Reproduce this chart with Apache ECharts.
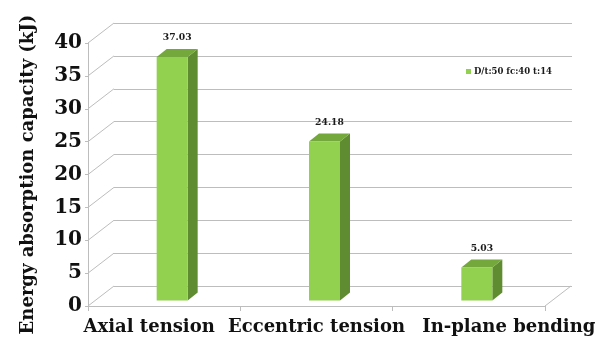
<!DOCTYPE html>
<html>
<head>
<meta charset="utf-8">
<script src="https://cdn.jsdelivr.net/npm/echarts@6/dist/echarts.min.js"></script>
<style>
  html, body { margin: 0; padding: 0; background: #fff; }
  #chart { width: 611px; height: 342px; }
</style>
</head>
<body>
<div id="chart"></div>
<script>
// Energy absorption per loading case
const categories = ['Axial tension', 'Eccentric tension', 'In-plane bending'];
const seriesName = 'D/t:50 fc:40 t:14';
const energyValues = [37.03, 24.18, 5.03];
const yTicks = [0, 5, 10, 15, 20, 25, 30, 35, 40];

// Pseudo-3D geometry (pixels)
const WALL_DX = 26, WALL_DY = -20;   // depth of the back wall
const BAR_DX = 8, BAR_DY = -5.5;     // bar front face shift into depth
const BAR_DEPTH_X = 10, BAR_DEPTH_Y = -8;
const BAR_HALF = 15.5;
// horizontal nudge of each category label so the long labels don't collide
const LABEL_SHIFT = [-15, 0, 40];

const FONT = 'DejaVu Serif';
const GRID_COLOR = '#bdbdbd';

const chart = echarts.init(document.getElementById('chart'), null, { renderer: 'canvas' });

function wallRender(params, api) {
  const cs = params.coordSys;
  const v = api.value(0);
  const y = api.coord([0, v])[1];
  const children = [{
    type: 'line',
    shape: { x1: cs.x, y1: y, x2: cs.x + WALL_DX, y2: y + WALL_DY },
    style: { stroke: GRID_COLOR, lineWidth: 1 }
  }];
  if (v === 0) {
    // right edge of the floor
    const xr = cs.x + cs.width;
    children.push({
      type: 'line',
      shape: { x1: xr, y1: y, x2: xr + WALL_DX, y2: y + WALL_DY },
      style: { stroke: GRID_COLOR, lineWidth: 1 }
    });
  }
  return { type: 'group', children: children };
}

function barRender(params, api) {
  const idx = api.value(0);
  const val = api.value(1);
  const top = api.coord([idx, val]);
  const base = api.coord([idx, 0]);
  const cx = top[0] + BAR_DX;
  const xl = cx - BAR_HALF, xr = cx + BAR_HALF;
  const yt = top[1] + BAR_DY, yb = base[1] + BAR_DY;
  return {
    type: 'group',
    children: [
      {
        type: 'polygon',
        shape: { points: [[xr, yt], [xr + BAR_DEPTH_X, yt + BAR_DEPTH_Y], [xr + BAR_DEPTH_X, yb + BAR_DEPTH_Y], [xr, yb]] },
        style: { fill: '#5f8c30' }
      },
      {
        type: 'polygon',
        shape: { points: [[xl, yt], [xl + BAR_DEPTH_X, yt + BAR_DEPTH_Y], [xr + BAR_DEPTH_X, yt + BAR_DEPTH_Y], [xr, yt]] },
        style: { fill: '#74a83c' }
      },
      {
        type: 'rect',
        shape: { x: xl, y: yt, width: xr - xl, height: yb - yt },
        style: { fill: '#92d050' }
      },
      {
        type: 'text',
        style: {
          text: val.toFixed(2),
          x: cx + 5, y: yt + BAR_DEPTH_Y - 11,
          align: 'center', verticalAlign: 'middle',
          font: 'bold 9.2px "' + FONT + '"',
          fill: '#1a1a1a'
        }
      }
    ]
  };
}

const categoryItems = categories.map((c, i) => {
  const s = LABEL_SHIFT[i];
  return {
    value: c,
    textStyle: { padding: s >= 0 ? [0, 0, 0, 2 * s] : [0, -2 * s, 0, 0] }
  };
});

chart.setOption({
  animation: false,
  backgroundColor: '#ffffff',
  grid: [
    { left: 88, right: 66, top: 43, bottom: 36 },
    { left: 114, right: 39, top: 23, bottom: 56 }
  ],
  legend: {
    data: [seriesName],
    left: 461, top: 62,
    icon: 'rect', itemWidth: 5, itemHeight: 5, itemGap: 4,
    textStyle: { fontFamily: FONT, fontWeight: 'bold', fontSize: 8.5, color: '#1a1a1a', padding: [0, 0, 0, -2] }
  },
  xAxis: [
    {
      gridIndex: 0, type: 'category', data: categoryItems,
      axisLine: { show: true, lineStyle: { color: GRID_COLOR, width: 1 } },
      axisTick: { show: true, length: 5, lineStyle: { color: GRID_COLOR } },
      axisLabel: { interval: 0, hideOverlap: false, margin: 12, fontFamily: FONT, fontWeight: 'bold', fontSize: 18, color: '#111' }
    },
    {
      gridIndex: 1, type: 'category', data: categories,
      axisLine: { show: false }, axisTick: { show: false }, axisLabel: { show: false }
    }
  ],
  yAxis: [
    {
      gridIndex: 0, type: 'value', min: 0, max: 40, interval: 5,
      name: 'Energy absorption capacity (kJ)',
      nameLocation: 'middle', nameGap: 51,
      nameTextStyle: { fontFamily: FONT, fontWeight: 'bold', fontSize: 18, color: '#111' },
      axisLine: { show: true, lineStyle: { color: GRID_COLOR, width: 1 } },
      axisTick: { show: true, length: 3, lineStyle: { color: GRID_COLOR } },
      splitLine: { show: false },
      axisLabel: { margin: 6, fontFamily: FONT, fontWeight: 'bold', fontSize: 20, color: '#111',
                   formatter: v => yTicks.includes(v) ? String(v) : '' }
    },
    {
      gridIndex: 1, type: 'value', min: 0, max: 40, interval: 5,
      axisLine: { show: false }, axisTick: { show: false }, axisLabel: { show: false },
      splitLine: { show: true, lineStyle: { color: GRID_COLOR, width: 1 } }
    }
  ],
  series: [
    {
      type: 'custom', name: 'wall', xAxisIndex: 0, yAxisIndex: 0,
      data: yTicks.map(v => [v]),
      encode: { y: 0 },
      renderItem: wallRender, silent: true, z: 1
    },
    {
      type: 'custom', name: seriesName, xAxisIndex: 0, yAxisIndex: 0,
      itemStyle: { color: '#92d050' },
      data: energyValues.map((v, i) => [i, v]),
      encode: { x: 0, y: 1 },
      renderItem: barRender, z: 5
    }
  ]
});
</script>
</body>
</html>
